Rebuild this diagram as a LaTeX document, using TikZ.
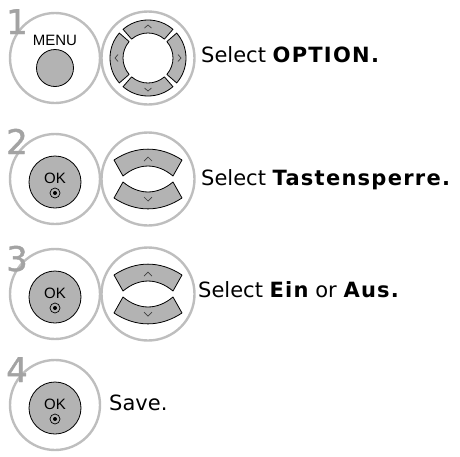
\documentclass[tikz,border=0pt]{standalone}
\usepackage{fontspec}
\setmainfont{DejaVu Sans}
\newfontfamily\keyfont{Liberation Sans}
\newfontfamily\numfont{DejaVu Sans}[FakeBold=1.2]
\usetikzlibrary{positioning}

\definecolor{ringgray}{HTML}{BEBEBE}
\definecolor{keygray}{HTML}{B3B3B3}
\definecolor{numgray}{HTML}{A3A3A3}

\newcommand{\menuitem}[1]{{\bfseries\addfontfeatures{LetterSpace=6}#1}}
\newcommand{\stepnum}[2]{%
    \node[stepnum] (num#1) at #2 {#1};%
}
\newcommand{\okkey}[2]{%
    \node[ring] (#1) at #2 {};%
    \node[keybtn, minimum size=52pt] (#1btn) at ([yshift=-3pt]#1.center) {};%
    \node[keylabel] (#1lbl) at ([yshift=1pt]#1.center) {OK};%
    \draw[line width=0.7pt] ([yshift=-14pt]#1.center) circle[radius=5pt];%
    \fill ([yshift=-14pt]#1.center) circle[radius=2pt];%
}
\newcommand{\navkey}[2]{%
    \node[ring, minimum size=93pt] (#1) at #2 {};%
    \begin{scope}[shift={#2}]
        \foreach \ang in {0,90,180,270}{%
            \draw[keyseg] (\ang-41:38) arc[start angle=\ang-41, end angle=\ang+41, radius=38]
                -- (\ang+41:25) arc[start angle=\ang+41, end angle=\ang-41, radius=25] -- cycle;
            \draw[chev, shift={(\ang:31.5)}, rotate=-\ang] (-1.5,-3.5) -- (1.5,0) -- (-1.5,3.5);
        }
    \end{scope}%
}
\newcommand{\updownkey}[2]{%
    \node[ring, minimum size=93pt] (#1) at #2 {};%
    \begin{scope}[shift={#2}]
        \foreach \s in {-1,1}{%
            \draw[keyseg] (-34,19*\s) .. controls (-12,33.5*\s) and (12,33.5*\s) .. (34,19*\s)
                -- (25,3*\s) .. controls (9,16.3*\s) and (-9,16.3*\s) .. (-25,3*\s) -- cycle;
            \draw[chev] (-4,18*\s) -- (0,22*\s) -- (4,18*\s);
        }
    \end{scope}%
}

\begin{document}
\begin{tikzpicture}[
        x=1pt,
        y=-1pt,
        ring/.style={circle, draw=ringgray, line width=2.4pt, minimum size=90pt, inner sep=0pt},
        keybtn/.style={circle, draw=black, line width=0.8pt, fill=keygray, inner sep=0pt},
        keyseg/.style={draw=black, line width=0.8pt, fill=keygray, line join=round},
        chev/.style={draw=black!75, line width=0.7pt},
        keylabel/.style={font=\keyfont\fontsize{15}{15}\selectfont, inner sep=0pt},
        stepnum/.style={font=\numfont\fontsize{34}{34}\selectfont, text=numgray, inner sep=0pt, anchor=base west},
        steptext/.style={font=\fontsize{21}{25}\selectfont, inner sep=0pt, anchor=base west}
    ]
        \useasboundingbox (0,0) rectangle (460,456);

        % step 1
        \node[ring] (menu) at (55,58) {};
        \node[keylabel] (menulbl) at (55,40) {MENU};
        \node[keybtn, minimum size=37pt] (menubtn) at (55,68) {};
        \navkey{nav}{(148,58)}
        \stepnum{1}{(6,34)}
        \node[steptext] (t1) at (201,62) {Select \menuitem{OPTION.}};

        % step 2
        \okkey{ok2}{(55,179)}
        \updownkey{ud2}{(148,179)}
        \stepnum{2}{(6,154)}
        \node[steptext] (t2) at (201,185) {Select \menuitem{Tastensperre.}};

        % step 3
        \okkey{ok3}{(55,294)}
        \updownkey{ud3}{(148,294)}
        \stepnum{3}{(6,271)}
        \node[steptext] (t3) at (198,297) {Select \menuitem{Ein} or \menuitem{Aus.}};

        % step 4
        \okkey{ok4}{(55,405)}
        \stepnum{4}{(6,382)}
        \node[steptext] (t4) at (109,410) {Save.};
    \end{tikzpicture}
\end{document}
